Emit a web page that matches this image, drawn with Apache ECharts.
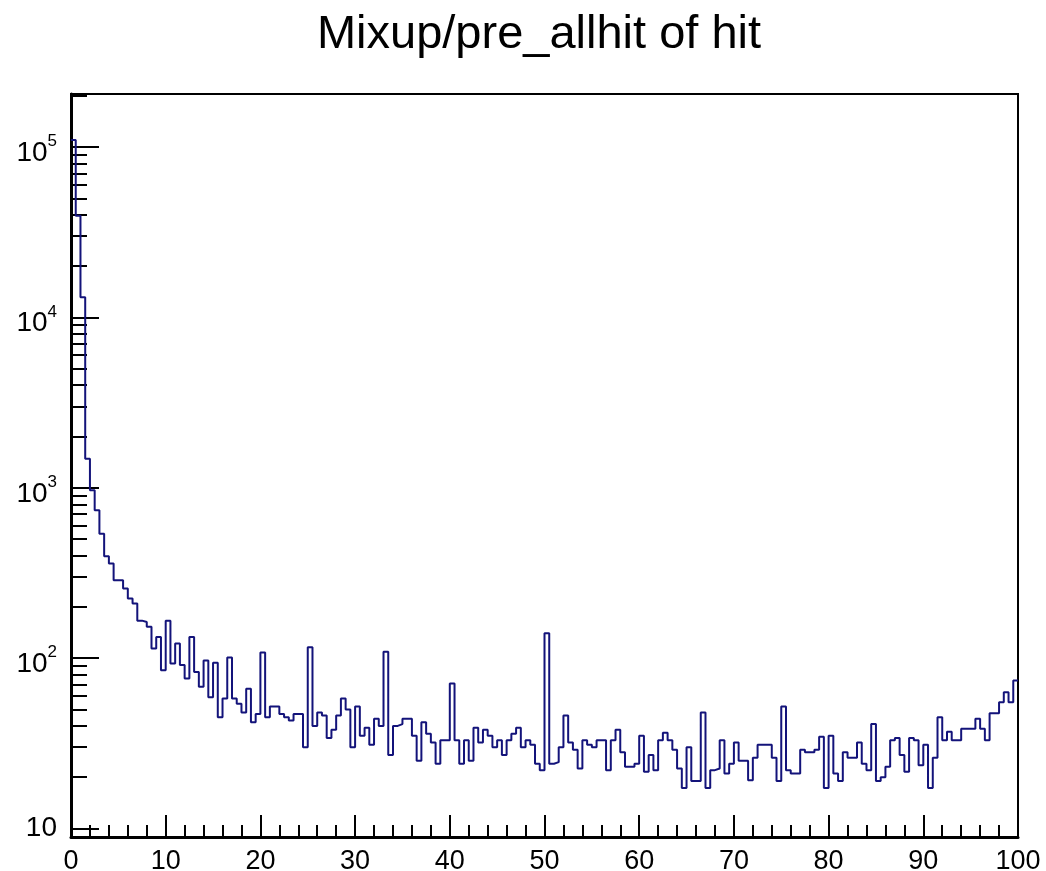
<!DOCTYPE html>
<html><head><meta charset="utf-8">
<script src="https://cdn.jsdelivr.net/npm/echarts@6/dist/echarts.min.js"></script>
<style>html,body{margin:0;padding:0;background:#fff}#c{width:1046px;height:871px}</style>
</head><body><div id="c"></div>
<script>
const chartTitle = 'Mixup/pre_allhit of hit';
const xRange = [0, 100];
const nBins = 200;
const binValues = [
110000,39600,13150,1483,966,738,538,396,359,287,
287,256,224,209,166,163,153,114,133,85,
166,93,122,91,76,133,83,68,97,59,
94,45,58,101,58,54,48,66,42,47,
108,45,52,52,47,45,43,47,47,30,
116,40,48,46,34,38,46,58,50,30,
52,35,39,31,44,40,109,27,40,41,
44,44,35,25,42,36,32,24,33,33,
71,33,24,33,25,39,32,38,35,30,
33,27,33,36,39,30,33,31,24,22,
140,24,24.5,30,46,32,29,22.5,33,31,
30,33,33,22,33,38,28,23,23,24,
35,21.5,27,22,33,36.5,33,29,22.5,17.3,
30,19,19,48,17.3,22,22.5,33,21,24,
32,25,25,19.2,26,31,31,31,26,19,
52,22,21,21,29,28,28,29,34.5,17.3,
35,21,19,28,26,26,32,24,22,41,
19,20,23,33,34,27,21.5,34,33,23.5,
31,17.3,26,45,33,37,33,33,38.5,38.5,
38.5,44,38.5,33,47.5,47.5,55,63,55,74
];
const yRange = [8.91, 205000];
const xTickStep = 10;
const xTickLabels = ['0','10','20','30','40','50','60','70','80','90','100'];
const yMajorTicks = [10, 100, 1000, 10000, 100000];
const yMajorExponents = ['1', '2', '3', '4', '5'];
const yMinorTicks = [9,20,30,40,50,60,70,80,90,200,300,400,500,600,700,800,900,
  2000,3000,4000,5000,6000,7000,8000,9000,20000,30000,40000,50000,60000,70000,80000,90000,200000];

const font = '"Liberation Sans", Arial, Helvetica, sans-serif';
const binWidth = (xRange[1] - xRange[0]) / nBins;
const points = binValues.map((v, i) => [xRange[0] + i * binWidth, v]);
points.push([xRange[1], binValues[binValues.length - 1]]);

const chart = echarts.init(document.getElementById('c'), null, {renderer: 'canvas'});
chart.setOption({
  animation: false,
  backgroundColor: '#fff',
  title: {
    text: chartTitle, left: 534, top: 7, textAlign: 'center',
    textStyle: {fontFamily: font, fontSize: 47, fontWeight: 'normal', color: '#000'}
  },
  grid: {left: 71, top: 94, right: 28, bottom: 34, show: true, borderColor: '#000', borderWidth: 2,
    containLabel: false, outerBoundsMode: 'none'},
  xAxis: {
    type: 'value', min: xRange[0], max: xRange[1], interval: xTickStep,
    axisLine: {lineStyle: {color: '#000', width: 3}},
    axisTick: {inside: true, length: 22, lineStyle: {color: '#000', width: 2}},
    minorTick: {show: true, splitNumber: 5, length: 12, lineStyle: {color: '#000', width: 2}},
    splitLine: {show: false},
    axisLabel: {fontFamily: font, fontSize: 27, color: '#000', margin: 11,
      formatter: (v) => xTickLabels[Math.round((v - xRange[0]) / xTickStep)] || ''}
  },
  yAxis: [{
    type: 'log', min: yRange[0], max: yRange[1], logBase: 10,
    axisLine: {lineStyle: {color: '#000', width: 3}},
    axisTick: {inside: true, length: 28, customValues: yMajorTicks, lineStyle: {color: '#000', width: 2}},
    axisLabel: {
      customValues: yMajorTicks, margin: 14, color: '#000',
      formatter: (v) => {
        const k = yMajorTicks.findIndex(t => Math.abs(t - v) / t < 1e-6);
        if (k < 0) return '';
        if (k === 0) return '{p|10}';
        return '{b|10}{s|' + yMajorExponents[k] + '}';
      },
      rich: {
        p: {fontFamily: font, fontSize: 28, color: '#000'},
        b: {fontFamily: font, fontSize: 28, color: '#000', padding: [12, 0, 0, 0]},
        s: {fontFamily: font, fontSize: 17, color: '#000', verticalAlign: 'top', padding: [6, 0, 0, 0]}
      }
    },
    splitLine: {show: false}
  }, {
    type: 'log', min: yRange[0], max: yRange[1], logBase: 10, position: 'left',
    axisLine: {show: false},
    axisTick: {inside: true, length: 16, customValues: yMinorTicks, lineStyle: {color: '#000', width: 2}},
    axisLabel: {show: false},
    splitLine: {show: false}
  }],
  series: [{
    type: 'line', step: 'end', data: points, symbol: 'none', showSymbol: false,
    xAxisIndex: 0, yAxisIndex: 0, clip: true,
    lineStyle: {color: '#13137a', width: 2}
  }]
});
</script>
</body></html>
